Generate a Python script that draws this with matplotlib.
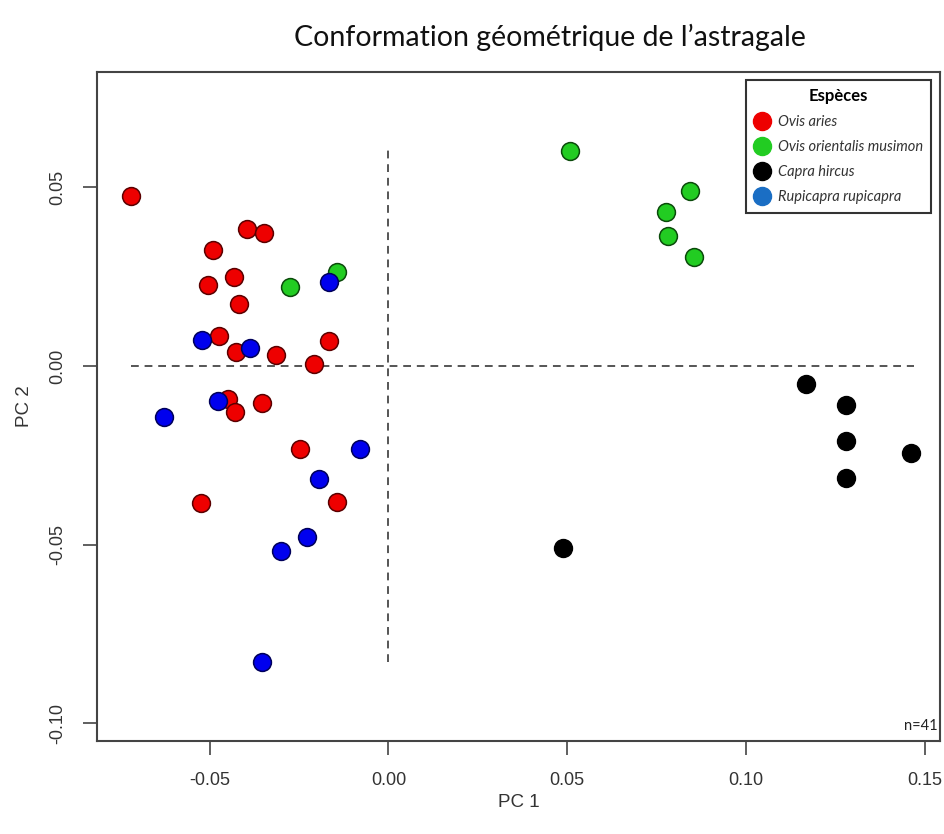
import numpy as np
import matplotlib.pyplot as plt
from matplotlib.lines import Line2D

# Coordonnées ACP
ovis_aries_x = [-0.0720, -0.0395, -0.0348, -0.0491, -0.0432, -0.0506, -0.0418, -0.0474, -0.0426,
                -0.0314, -0.0167, -0.0207, -0.0450, -0.0429, -0.0354, -0.0247, -0.0525, -0.0144]
ovis_aries_y = [0.0476, 0.0384, 0.0372, 0.0325, 0.0248, 0.0227, 0.0174, 0.0084, 0.0040,
                0.0030, 0.0070, 0.0006, -0.0093, -0.0128, -0.0104, -0.0232, -0.0385, -0.0382]

musimon_x = [-0.0274, -0.0143, 0.0508, 0.0844, 0.0776, 0.0782, 0.0856]
musimon_y = [0.0221, 0.0262, 0.0602, 0.0489, 0.0432, 0.0365, 0.0305]

capra_x = [0.1167, 0.1279, 0.1279, 0.1281, 0.1463, 0.0488]
capra_y = [-0.0051, -0.0109, -0.0209, -0.0313, -0.0243, -0.0511]

rupicapra_x = [-0.0167, -0.0522, -0.0387, -0.0478, -0.0629, -0.0079, -0.0194, -0.0227, -0.0301, -0.0354]
rupicapra_y = [0.0236, 0.0073, 0.0050, -0.0097, -0.0142, -0.0232, -0.0316, -0.0478, -0.0518, -0.0829]

especes = ['Ovis aries', 'Ovis orientalis musimon', 'Capra hircus', 'Rupicapra rupicapra']

plt.rcParams['font.family'] = ['Liberation Sans', 'DejaVu Sans']

fig = plt.figure(figsize=(9.44, 8.34), dpi=100)
ax = fig.add_axes([0.1028, 0.1115, 0.893, 0.8022])

# lignes pointillées
ax.plot([0, 0], [-0.083, 0.0605], ls=(0, (4, 3)), color='#555555', lw=1.4, zorder=1)
ax.plot([-0.072, 0.147], [0, 0], ls=(0, (4, 3)), color='#555555', lw=1.4, zorder=1)

pts = dict(s=165, linewidths=1.1, zorder=3)
ax.scatter(ovis_aries_x, ovis_aries_y, c='#ee0000', edgecolors='#5a0000', **pts)
ax.scatter(musimon_x, musimon_y, c='#22cc22', edgecolors='#0a4a0a', **pts)
ax.scatter(capra_x, capra_y, c='black', edgecolors='black', **pts)
ax.scatter(rupicapra_x, rupicapra_y, c='#0000ee', edgecolors='#00005a', **pts)

ax.set_xlim(-0.0815, 0.1543)
ax.set_ylim(-0.105, 0.0823)
ax.set_xticks([-0.05, 0.00, 0.05, 0.10, 0.15])
ax.set_xticklabels(['-0.05', '0.00', '0.05', '0.10', '0.15'])
ax.set_yticks([-0.10, -0.05, 0.00, 0.05])
ax.set_yticklabels(['-0.10', '-0.05', '0.00', '0.05'], rotation=90, va='center')
ax.tick_params(length=10, width=1.2, color='#444444', labelsize=13, labelcolor='#333333', pad=12)
for sp in ax.spines.values():
    sp.set_linewidth(1.5)
    sp.set_color('#444444')

ax.set_xlabel('PC 1', fontsize=13.5, color='#333333', labelpad=4)
ax.set_ylabel('PC 2', fontsize=13.5, color='#333333', labelpad=12)

fig.text(0.583, 0.955, 'Conformation géométrique de l\u2019astragale', ha='center', va='center',
         fontsize=20.5, family=['Lato', 'DejaVu Sans'], color='#111111')

ax.text(0.997, 0.022, 'n=41', transform=ax.transAxes, ha='right', va='center',
        fontsize=10.5, family=['Lato', 'DejaVu Sans'], color='#222222')

# légende
leg_cols = ['#ee0000', '#22cc22', 'black', '#1a6ec4']
handles = [Line2D([], [], marker='o', ls='', markersize=13, markerfacecolor=c, markeredgecolor=c)
           for c in leg_cols]
leg = ax.legend(handles, especes, title='Espèces', loc='upper right', bbox_to_anchor=(0.9985, 0.9995),
                frameon=True, fancybox=False, edgecolor='black', handletextpad=0.6,
                borderpad=0.6, labelspacing=0.75, handlelength=1.0,
                prop=dict(family=['Lato', 'DejaVu Sans'], style='italic', size=10.5))
leg.get_frame().set_linewidth(1.5)
leg.get_title().set_fontweight('bold')
leg.get_title().set_fontfamily(['Lato', 'DejaVu Sans'])
leg.get_title().set_fontsize(12)
for t in leg.get_texts():
    t.set_color('#333333')

fig.savefig('out.png', dpi=100)
